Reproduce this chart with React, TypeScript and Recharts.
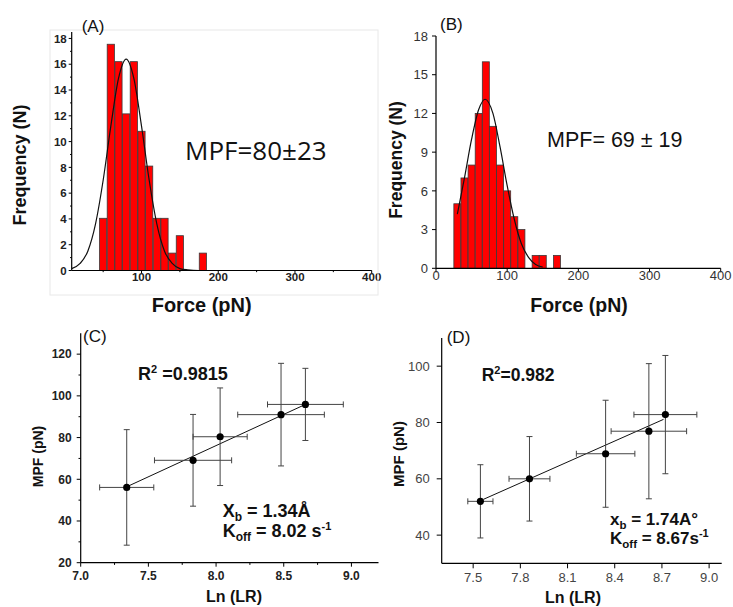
import React from "react";
import { Bar, ComposedChart, ErrorBar, Line, Scatter, XAxis, YAxis } from "recharts";

const W = 733;
const H = 607;
const FONT = "'Liberation Sans', Arial, sans-serif";

// (A) rupture force histogram: bin centres (pN) and counts
const binA = [50, 60, 70, 80, 90, 100, 110, 120, 130, 140, 150, 180];
const countA = [4.05, 17.55, 16.2, 12.15, 16.2, 10.8, 8.1, 4.05, 4.05, 1.35, 2.7, 1.35];
// gaussian fit
const fitXA = [9, 20, 30, 40, 50, 60, 70, 80, 90, 100, 110, 120, 130, 140, 150, 160, 175, 200, 400];
const fitYA = [0.15, 0.55, 1.5, 3.6, 7.0, 11.2, 14.9, 16.4, 14.9, 11.2, 7.0, 3.6, 1.5, 0.55, 0.15, 0.05, 0, 0, 0];

// (B)
const binB = [30, 40, 50, 60, 70, 80, 90, 100, 110, 120, 140, 150, 170];
const countB = [5, 7, 8, 12, 16, 11, 8, 6, 4, 3, 1, 1, 1];
const fitXB = [30, 40, 50, 60, 69, 80, 90, 100, 110, 120, 130, 140, 150];
const fitYB = [4.2, 7.0, 10.0, 12.3, 13.1, 12.0, 9.4, 6.4, 3.8, 1.9, 0.85, 0.3, 0.1];

// (C) MPF vs ln(loading rate)
const lnC = [7.34, 7.83, 8.03, 8.48, 8.66];
const mpfC = [56.1, 69.1, 80.4, 91.0, 95.9];
const lnErrC = [0.2, 0.285, 0.2, 0.32, 0.28];
const mpfErrC = [27.7, 22, 23.4, 24.6, 17.3];
const fitLnC = [7.34, 8.66];
const fitMpfC = [56.4, 95.9];

// (D)
const lnD = [7.546, 7.858, 8.342, 8.617, 8.722];
const mpfD = [52.0, 60.0, 68.9, 76.9, 82.8];
const lnErrD = [0.08, 0.13, 0.186, 0.24, 0.2];
const mpfErrD = [13, 15, 19, 24, 21];
const fitLnD = [7.565, 8.71];
const fitMpfD = [52.7, 81.1];

const histA = binA.map((f, i) => ({ f, n: countA[i] }));
const curveA = fitXA.map((f, i) => ({ f, fit: fitYA[i] }));
const histB = binB.map((f, i) => ({ f, n: countB[i] }));
const curveB = fitXB.map((f, i) => ({ f, fit: fitYB[i] }));
const ptsC = lnC.map((x, i) => ({ x, y: mpfC[i], ex: lnErrC[i], ey: mpfErrC[i] }));
const lineC = fitLnC.map((x, i) => ({ x, y: fitMpfC[i] }));
const ptsD = lnD.map((x, i) => ({ x, y: mpfD[i], ex: lnErrD[i], ey: mpfErrD[i] }));
const lineD = fitLnD.map((x, i) => ({ x, y: fitMpfD[i] }));

type TickCfg = {
  side: "x" | "y";
  majors: number[];
  len: number;
  off: number; // x: axis->baseline, y: axis->label right edge
  size: number;
  weight: number;
  fill: string;
  digits: number;
};

// draws its own tick line so minor ticks can be shorter than major ones
function tickRenderer(c: TickCfg) {
  return (p: any) => {
    const v = Number(p.payload.value);
    const major = c.majors.some((m) => Math.abs(m - v) < 1e-6);
    const l = major ? c.len : c.len * 0.55;
    const label = v.toFixed(c.digits);
    if (c.side === "x") {
      return (
        <g>
          <line x1={p.x} x2={p.x} y1={p.y} y2={p.y + l} stroke="#000" strokeWidth={1} />
          {major && (
            <text x={p.x} y={p.y + c.off} textAnchor="middle" fontFamily={FONT} fontSize={c.size} fontWeight={c.weight} fill={c.fill}>
              {label}
            </text>
          )}
        </g>
      );
    }
    return (
      <g>
        <line x1={p.x - l} x2={p.x} y1={p.y} y2={p.y} stroke="#000" strokeWidth={1} />
        {major && (
          <text x={p.x - c.off} y={p.y} dy="0.36em" textAnchor="end" fontFamily={FONT} fontSize={c.size} fontWeight={c.weight} fill={c.fill}>
            {label}
          </text>
        )}
      </g>
    );
  };
}

// histogram bar of fixed pixel width, centred on its bin
const binBar = (w: number) => (p: any) =>
  p.height > 0 ? (
    <rect x={p.x + p.width / 2 - w / 2} y={p.y} width={w} height={p.height} fill="#ff0000" stroke="#3a3a3a" strokeWidth={0.8} />
  ) : (
    <g />
  );

const axisLine = { stroke: "#000", strokeWidth: 1.2 };
const flatAxis = { tickLine: false, tickSize: 0, tickMargin: 0, axisLine, interval: 0 as const };

const dot = (p: any) => <circle cx={p.cx} cy={p.cy} r={3.6} fill="#000" />;

function PanelA() {
  return (
    <ComposedChart width={W} height={H} data={histA} margin={{ top: 32, left: 31.7, right: 361.3, bottom: 306.5 }}>
      <XAxis
        dataKey="f"
        type="number"
        domain={[9, 400]}
        ticks={[50, 100, 150, 200, 250, 300, 350, 400]}
        height={30}
        allowDataOverflow
        {...flatAxis}
        tick={tickRenderer({ side: "x", majors: [100, 200, 300, 400], len: 3, off: 10, size: 11.5, weight: 700, fill: "#222", digits: 0 })}
      />
      <YAxis
        type="number"
        domain={[0, 18.5]}
        ticks={[0, 1, 2, 3, 4, 5, 6, 7, 8, 9, 10, 11, 12, 13, 14, 15, 16, 17, 18]}
        width={40}
        allowDataOverflow
        {...flatAxis}
        tick={tickRenderer({ side: "y", majors: [0, 2, 4, 6, 8, 10, 12, 14, 16, 18], len: 3, off: 5, size: 11.5, weight: 700, fill: "#222", digits: 0 })}
      />
      <Bar dataKey="n" shape={binBar(7.2)} isAnimationActive={false} />
      <Line data={curveA} dataKey="fit" type="monotone" stroke="#111" strokeWidth={1.2} dot={false} isAnimationActive={false} />
    </ComposedChart>
  );
}

function PanelB() {
  return (
    <ComposedChart width={W} height={H} data={histB} margin={{ top: 36, left: 406, right: 12.3, bottom: 308.7 }}>
      <XAxis
        dataKey="f"
        type="number"
        domain={[0, 400]}
        ticks={[0, 100, 200, 300, 400]}
        height={30}
        allowDataOverflow
        {...flatAxis}
        tick={tickRenderer({ side: "x", majors: [0, 100, 200, 300, 400], len: 4, off: 12, size: 13, weight: 400, fill: "#333", digits: 0 })}
      />
      <YAxis
        type="number"
        domain={[0, 18]}
        ticks={[0, 3, 6, 9, 12, 15, 18]}
        width={30}
        allowDataOverflow
        {...flatAxis}
        tick={tickRenderer({ side: "y", majors: [0, 3, 6, 9, 12, 15, 18], len: 4, off: 8, size: 13, weight: 400, fill: "#333", digits: 0 })}
      />
      <Bar dataKey="n" shape={binBar(7)} isAnimationActive={false} />
      <Line data={curveB} dataKey="fit" type="monotone" stroke="#111" strokeWidth={1.2} dot={false} isAnimationActive={false} />
    </ComposedChart>
  );
}

function PanelC() {
  return (
    <ComposedChart width={W} height={H} margin={{ top: 333.3, left: 50.7, right: 354.5, bottom: 14.3 }}>
      <XAxis
        dataKey="x"
        type="number"
        domain={[7, 9.2]}
        ticks={[7, 7.25, 7.5, 7.75, 8, 8.25, 8.5, 8.75, 9]}
        height={30}
        allowDataOverflow
        {...flatAxis}
        tick={tickRenderer({ side: "x", majors: [7, 7.5, 8, 8.5, 9], len: 4, off: 17, size: 12, weight: 700, fill: "#222", digits: 1 })}
      />
      <YAxis
        dataKey="y"
        type="number"
        domain={[20, 130]}
        ticks={[20, 30, 40, 50, 60, 70, 80, 90, 100, 110, 120]}
        width={30}
        allowDataOverflow
        {...flatAxis}
        tick={tickRenderer({ side: "y", majors: [20, 40, 60, 80, 100, 120], len: 4, off: 9, size: 12, weight: 700, fill: "#222", digits: 0 })}
      />
      <Line data={lineC} dataKey="y" type="linear" stroke="#111" strokeWidth={1} dot={false} isAnimationActive={false} />
      <Scatter data={ptsC} dataKey="y" shape={dot} isAnimationActive={false}>
        <ErrorBar dataKey="ex" direction="x" width={3} stroke="#444" strokeWidth={1} />
        <ErrorBar dataKey="ey" direction="y" width={3} stroke="#444" strokeWidth={1} />
      </Scatter>
    </ComposedChart>
  );
}

function PanelD() {
  return (
    <ComposedChart width={W} height={H} margin={{ top: 338, left: 411.7, right: 11.3, bottom: 13.7 }}>
      <XAxis
        dataKey="x"
        type="number"
        domain={[7.3, 9.08]}
        ticks={[7.5, 7.8, 8.1, 8.4, 8.7, 9.0]}
        height={30}
        allowDataOverflow
        {...flatAxis}
        tick={tickRenderer({ side: "x", majors: [7.5, 7.8, 8.1, 8.4, 8.7, 9.0], len: 5, off: 19, size: 13, weight: 400, fill: "#444", digits: 1 })}
      />
      <YAxis
        dataKey="y"
        type="number"
        domain={[30, 110]}
        ticks={[40, 60, 80, 100]}
        width={30}
        allowDataOverflow
        {...flatAxis}
        tick={tickRenderer({ side: "y", majors: [40, 60, 80, 100], len: 5, off: 12, size: 13, weight: 400, fill: "#444", digits: 0 })}
      />
      <Line data={lineD} dataKey="y" type="linear" stroke="#111" strokeWidth={1} dot={false} isAnimationActive={false} />
      <Scatter data={ptsD} dataKey="y" shape={dot} isAnimationActive={false}>
        <ErrorBar dataKey="ex" direction="x" width={3} stroke="#444" strokeWidth={1} />
        <ErrorBar dataKey="ey" direction="y" width={3} stroke="#444" strokeWidth={1} />
      </Scatter>
    </ComposedChart>
  );
}

const bold = { fontFamily: FONT, fontWeight: 700, fill: "#111" };
const plain = { fontFamily: FONT, fill: "#111" };

function Annotations() {
  return (
    <svg width={W} height={H} style={{ position: "absolute", left: 0, top: 0, pointerEvents: "none" }}>
      <rect x={50} y={30} width={328} height={265} fill="none" stroke="#e8e8e8" />
      <text x={81.7} y={31.5} fontSize={17} {...plain}>(A)</text>
      <text x={440} y={30} fontSize={17} {...plain}>(B)</text>
      <text x={83} y={341.7} fontSize={17} {...plain}>(C)</text>
      <text x={446.7} y={342.5} fontSize={17} {...plain}>(D)</text>

      <text x={185} y={159.5} fontSize={26} fontFamily="'Open Sans', sans-serif" fill="#111">MPF=80±23</text>
      <text x={547} y={147} fontSize={21.5} {...plain}>MPF= 69 ± 19</text>

      <text x={201.7} y={311.5} fontSize={20} textAnchor="middle" {...bold}>Force (pN)</text>
      <text x={579} y={311.5} fontSize={19.5} textAnchor="middle" {...bold}>Force (pN)</text>
      <text transform="translate(20,165) rotate(-90)" fontSize={18} textAnchor="middle" dominantBaseline="central" {...bold}>Frequency (N)</text>
      <text transform="translate(395.5,160) rotate(-90)" fontSize={17.5} textAnchor="middle" dominantBaseline="central" {...bold}>Frequency (N)</text>

      <text transform="translate(38,456.5) rotate(-90)" fontSize={14} textAnchor="middle" dominantBaseline="central" {...bold}>MPF (pN)</text>
      <text x={234} y={602} fontSize={16} textAnchor="middle" {...bold}>Ln (LR)</text>
      <text transform="translate(398.5,454) rotate(-90)" fontSize={15} textAnchor="middle" dominantBaseline="central" {...bold}>MPF (pN)</text>
      <text x={573} y={603} fontSize={16} textAnchor="middle" {...bold}>Ln (LR)</text>

      <text x={138} y={380} fontSize={18} {...bold}>
        R<tspan fontSize={11} dy={-7}>2</tspan>
        <tspan dy={7}> =0.9815</tspan>
      </text>
      <text x={222.7} y={516.7} fontSize={18} {...bold}>
        X<tspan fontSize={12} dy={4}>b</tspan>
        <tspan dy={-4}> = 1.34Å</tspan>
      </text>
      <text x={222.7} y={537.3} fontSize={18} {...bold}>
        K<tspan fontSize={12} dy={4}>off</tspan>
        <tspan dy={-4}> = 8.02 s</tspan>
        <tspan fontSize={11} dy={-7}>-1</tspan>
      </text>

      <text x={481.7} y={381} fontSize={17.5} {...bold}>
        R<tspan fontSize={11} dy={-7}>2</tspan>
        <tspan dy={7}>=0.982</tspan>
      </text>
      <text x={610} y={525} fontSize={17} {...bold}>
        x<tspan fontSize={11.5} dy={4}>b</tspan>
        <tspan dy={-4}> = 1.74A°</tspan>
      </text>
      <text x={610} y={544.3} fontSize={17} {...bold}>
        K<tspan fontSize={11.5} dy={4}>off</tspan>
        <tspan dy={-4}> = 8.67s</tspan>
        <tspan fontSize={11} dy={-7}>-1</tspan>
      </text>
    </svg>
  );
}

export default function App() {
  return (
    <div style={{ position: "absolute", left: 0, top: 0, width: W, height: H, background: "#fff" }}>
      {[PanelA, PanelB, PanelC, PanelD].map((P, i) => (
        <div key={i} style={{ position: "absolute", left: 0, top: 0 }}>
          <P />
        </div>
      ))}
      <Annotations />
    </div>
  );
}
